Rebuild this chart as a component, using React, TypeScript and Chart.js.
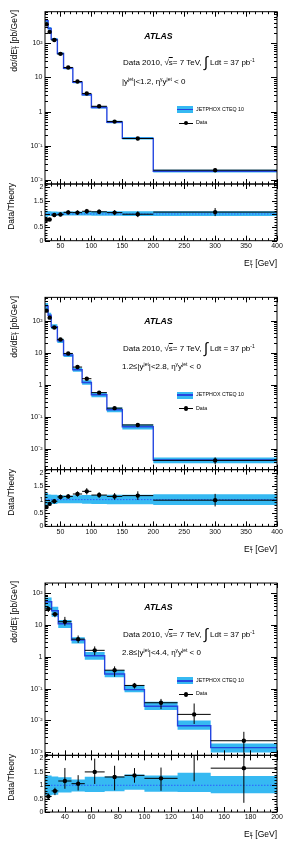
import React, { useEffect, useRef } from 'react';
import { Chart, registerables } from 'chart.js';

Chart.register(...registerables);

const FONT = '"Liberation Sans", Arial, Helvetica, sans-serif';
const BAND_COLOR = '#36b9f2';
const LINE_COLOR = '#2446e0';
const UNITY_COLOR = '#2d5cff';

// E_T^gamma bin edges and bin centres (GeV)
const EDGES_CENTRAL = [25, 30, 35, 45, 55, 70, 85, 100, 125, 150, 200, 400];
const CENTRES_CENTRAL = [27.5, 32.5, 40, 50, 62.5, 77.5, 92.5, 112.5, 137.5, 175, 300];
const EDGES_FORWARD = [25, 30, 35, 45, 55, 70, 85, 100, 125, 150, 200];
const CENTRES_FORWARD = [27.5, 32.5, 40, 50, 62.5, 77.5, 92.5, 112.5, 137.5, 175];

// |y_jet| < 1.2
const THEORY_1 = [460, 272, 130, 50, 18.5, 7.2, 3.1, 1.32, 0.49, 0.165, 0.018];
const BAND_HI_1 = [1.12, 1.10, 1.09, 1.08, 1.09, 1.09, 1.09, 1.10, 1.10, 1.10, 1.10];
const BAND_LO_1 = [0.90, 0.92, 0.93, 0.93, 0.94, 0.94, 0.94, 0.93, 0.93, 0.92, 0.92];
const DATA_1 = [359, 215, 125, 49, 19.6, 7.6, 3.4, 1.43, 0.51, 0.163, 0.0193];
const RATIO_1 = [0.78, 0.79, 0.96, 0.98, 1.06, 1.05, 1.10, 1.08, 1.05, 0.99, 1.07];
const ERR_UP_1 = [0.06, 0.06, 0.08, 0.07, 0.08, 0.08, 0.08, 0.08, 0.09, 0.11, 0.14];
const ERR_DN_1 = [0.06, 0.06, 0.08, 0.07, 0.08, 0.08, 0.08, 0.08, 0.09, 0.11, 0.14];

// 1.2 <= |y_jet| < 2.8
const THEORY_2 = [285, 148, 65, 23.5, 8.5, 2.95, 1.18, 0.49, 0.167, 0.049, 0.0045];
const BAND_HI_2 = [1.25, 1.19, 1.18, 1.16, 1.15, 1.16, 1.17, 1.17, 1.18, 1.18, 1.20];
const BAND_LO_2 = [0.75, 0.82, 0.84, 0.86, 0.86, 0.86, 0.85, 0.84, 0.83, 0.83, 0.80];
const DATA_2 = [205, 124, 61, 25.9, 9.5, 3.57, 1.55, 0.57, 0.187, 0.056, 0.0044];
const RATIO_2 = [0.72, 0.84, 0.94, 1.10, 1.12, 1.21, 1.31, 1.17, 1.12, 1.15, 0.98];
const ERR_UP_2 = [0.06, 0.07, 0.09, 0.08, 0.08, 0.08, 0.09, 0.09, 0.11, 0.14, 0.24];
const ERR_DN_2 = [0.06, 0.07, 0.09, 0.08, 0.08, 0.08, 0.09, 0.09, 0.11, 0.14, 0.24];

// 2.8 <= |y_jet| < 4.4
const THEORY_3 = [54, 28, 11, 3.4, 1.08, 0.29, 0.093, 0.028, 0.0068, 0.0014];
const BAND_HI_3 = [1.37, 1.33, 1.30, 1.22, 1.32, 1.33, 1.40, 1.37, 1.47, 1.35];
const BAND_LO_3 = [0.62, 0.65, 0.73, 0.77, 0.75, 0.78, 0.83, 0.76, 0.75, 0.70];
const DATA_3 = [32, 22, 12.7, 3.6, 1.6, 0.38, 0.126, 0.036, 0.0155, 0.0023];
const RATIO_3 = [0.58, 0.79, 1.16, 1.06, 1.50, 1.31, 1.37, 1.26, 2.3, 1.64];
const ERR_UP_3 = [0.2, 0.15, 0.42, 0.3, 0.33, 0.32, 0.2, 0.32, 1.2, 0.91];
const ERR_DN_3 = [0.2, 0.2, 0.25, 0.24, 0.3, 0.38, 0.2, 0.37, 0.5, 0.79];

// axis ticks and labels
const X_TICKS_CENTRAL = [50, 100, 150, 200, 250, 300, 350, 400];
const X_TICK_LABELS_CENTRAL = ['50', '100', '150', '200', '250', '300', '350', '400'];
const X_TICKS_FORWARD = [40, 60, 80, 100, 120, 140, 160, 180, 200];
const X_TICK_LABELS_FORWARD = ['40', '60', '80', '100', '120', '140', '160', '180', '200'];
const Y_TICKS_2DEC = [0.01, 0.1, 1, 10, 100];
const Y_TICK_LABELS_2DEC = ['10\u207B\u00B2', '10\u207B\u00B9', '1', '10', '10\u00B2'];
const Y_TICKS_3DEC = [0.001, 0.01, 0.1, 1, 10, 100];
const Y_TICK_LABELS_3DEC = ['10\u207B\u00B3', '10\u207B\u00B2', '10\u207B\u00B9', '1', '10', '10\u00B2'];
const RATIO_TICKS = [0, 0.5, 1, 1.5, 2];
const RATIO_TICK_LABELS = ['0', '0.5', '1', '1.5', '2'];
const RATIO_RANGE = [0, 2.12];

type PanelCfg = {
  edges: number[];
  centres: number[];
  theory: number[];
  bandHi: number[];
  bandLo: number[];
  data: number[];
  ratio: number[];
  errUp: number[];
  errDn: number[];
  xMin: number;
  xMax: number;
  xTicks: number[];
  xTickLabels: string[];
  xMinorStep: number;
  yMin: number;
  yMax: number;
  yTicks: number[];
  yTickLabels: string[];
  lowEdge: string;
};

const PANELS: PanelCfg[] = [
  {
    edges: EDGES_CENTRAL, centres: CENTRES_CENTRAL, theory: THEORY_1, bandHi: BAND_HI_1, bandLo: BAND_LO_1,
    data: DATA_1, ratio: RATIO_1, errUp: ERR_UP_1, errDn: ERR_DN_1,
    xMin: 25, xMax: 400, xTicks: X_TICKS_CENTRAL, xTickLabels: X_TICK_LABELS_CENTRAL, xMinorStep: 10,
    yMin: 0.0076, yMax: 840, yTicks: Y_TICKS_2DEC, yTickLabels: Y_TICK_LABELS_2DEC, lowEdge: '',
  },
  {
    edges: EDGES_CENTRAL, centres: CENTRES_CENTRAL, theory: THEORY_2, bandHi: BAND_HI_2, bandLo: BAND_LO_2,
    data: DATA_2, ratio: RATIO_2, errUp: ERR_UP_2, errDn: ERR_DN_2,
    xMin: 25, xMax: 400, xTicks: X_TICKS_CENTRAL, xTickLabels: X_TICK_LABELS_CENTRAL, xMinorStep: 10,
    yMin: 0.00226, yMax: 532, yTicks: Y_TICKS_2DEC, yTickLabels: Y_TICK_LABELS_2DEC, lowEdge: '1.2\u2264',
  },
  {
    edges: EDGES_FORWARD, centres: CENTRES_FORWARD, theory: THEORY_3, bandHi: BAND_HI_3, bandLo: BAND_LO_3,
    data: DATA_3, ratio: RATIO_3, errUp: ERR_UP_3, errDn: ERR_DN_3,
    xMin: 25, xMax: 200, xTicks: X_TICKS_FORWARD, xTickLabels: X_TICK_LABELS_FORWARD, xMinorStep: 5,
    yMin: 0.0008, yMax: 209, yTicks: Y_TICKS_3DEC, yTickLabels: Y_TICK_LABELS_3DEC, lowEdge: '2.8\u2264',
  },
];
const HIGH_EDGES = ['1.2', '2.8', '4.4'];

const PANEL_PITCH = 857 / 3;

function stepPoints(edges: number[], vals: number[]) {
  const pts = vals.map((v, i) => ({ x: edges[i], y: v }));
  pts.push({ x: edges[edges.length - 1], y: vals[vals.length - 1] });
  return pts;
}

function rangeStep(a: number, b: number, s: number) {
  const out: number[] = [];
  for (let v = a; v <= b + 1e-9; v += s) out.push(Math.round(v * 1000) / 1000);
  return out;
}

function logMinors(min: number, max: number) {
  const out: number[] = [];
  for (let d = Math.floor(Math.log10(min)); d <= Math.ceil(Math.log10(max)); d++) {
    for (let k = 2; k <= 9; k++) {
      const v = k * Math.pow(10, d);
      if (v >= min && v <= max) out.push(v);
    }
  }
  return out;
}

// ROOT-style frame with inward ticks on all four sides
function framePlugin(xMajor: number[], xMinor: number[], yMajor: number[], yMinor: number[], yMajLen: number, yMinLen: number) {
  return {
    id: 'rootFrame',
    afterDraw(chart: any) {
      const { ctx, chartArea: a } = chart;
      const xs = chart.scales.x;
      const ys = chart.scales.y;
      ctx.save();
      ctx.strokeStyle = '#000';
      ctx.lineWidth = 1;
      ctx.beginPath();
      const xt = (vals: number[], len: number) => {
        vals.forEach((v) => {
          if (v < xs.min || v > xs.max) return;
          const px = Math.round(xs.getPixelForValue(v)) + 0.5;
          ctx.moveTo(px, a.bottom);
          ctx.lineTo(px, a.bottom - len);
          ctx.moveTo(px, a.top);
          ctx.lineTo(px, a.top + len);
        });
      };
      const yt = (vals: number[], len: number) => {
        vals.forEach((v) => {
          if (v < ys.min || v > ys.max) return;
          const py = Math.round(ys.getPixelForValue(v)) + 0.5;
          ctx.moveTo(a.left, py);
          ctx.lineTo(a.left + len, py);
          ctx.moveTo(a.right, py);
          ctx.lineTo(a.right - len, py);
        });
      };
      xt(xMajor, 5);
      xt(xMinor, 2.5);
      yt(yMajor, yMajLen);
      yt(yMinor, yMinLen);
      ctx.stroke();
      ctx.strokeRect(a.left, a.top, a.right - a.left, a.bottom - a.top);
      ctx.restore();
    },
  };
}

// data error bars: vertical statistical error and horizontal bin width
function errorBarPlugin(xLo: number[], xHi: number[], xs0: number[], ys0: number[], yLo: number[], yHi: number[]) {
  return {
    id: 'errorBars',
    afterDatasetsDraw(chart: any) {
      const { ctx, chartArea: a } = chart;
      const xs = chart.scales.x;
      const ys = chart.scales.y;
      ctx.save();
      ctx.beginPath();
      ctx.rect(a.left, a.top, a.right - a.left, a.bottom - a.top);
      ctx.clip();
      ctx.strokeStyle = '#000';
      ctx.lineWidth = 1;
      ctx.beginPath();
      xs0.forEach((xv, i) => {
        const px = xs.getPixelForValue(xv);
        const py = ys.getPixelForValue(ys0[i]);
        ctx.moveTo(xs.getPixelForValue(xLo[i]), py);
        ctx.lineTo(xs.getPixelForValue(xHi[i]), py);
        ctx.moveTo(px, ys.getPixelForValue(yLo[i]));
        ctx.lineTo(px, ys.getPixelForValue(yHi[i]));
      });
      ctx.stroke();
      ctx.restore();
    },
  };
}

const tickFont = { family: FONT, size: 7 };

function xScale(cfg: PanelCfg, showLabels: boolean, height: number) {
  return {
    type: 'linear',
    min: cfg.xMin,
    max: cfg.xMax,
    bounds: 'data',
    display: showLabels,
    afterBuildTicks: (s: any) => {
      s.ticks = cfg.xTicks.map((v) => ({ value: v }));
    },
    afterFit: (s: any) => {
      s.height = height;
    },
    ticks: {
      autoSkip: false,
      maxRotation: 0,
      font: tickFont,
      color: '#111',
      padding: 1,
      callback: (v: number) => cfg.xTickLabels[cfg.xTicks.indexOf(v)] ?? '',
    },
    grid: { display: false, drawTicks: false },
    border: { display: false },
  };
}

function mainConfig(cfg: PanelCfg, dy: number): any {
  const hiBand = cfg.theory.map((t, i) => t * cfg.bandHi[i]);
  const loBand = cfg.theory.map((t, i) => t * cfg.bandLo[i]);
  const xLo = cfg.centres.map((_, i) => cfg.edges[i]);
  const xHi = cfg.centres.map((_, i) => cfg.edges[i + 1]);
  const yHi = cfg.data.map((d, i) => d * (1 + cfg.errUp[i]));
  const yLo = cfg.data.map((d, i) => d * (1 - cfg.errDn[i]));
  const xMinor = rangeStep(cfg.xMin, cfg.xMax, cfg.xMinorStep);
  return {
    type: 'line',
    data: {
      datasets: [
        { data: stepPoints(cfg.edges, hiBand), stepped: 'before', fill: '+1', backgroundColor: BAND_COLOR, borderWidth: 0, pointRadius: 0, order: 5 },
        { data: stepPoints(cfg.edges, loBand), stepped: 'before', fill: false, borderWidth: 0, pointRadius: 0, order: 6 },
        { data: stepPoints(cfg.edges, cfg.theory), stepped: 'before', fill: false, borderColor: LINE_COLOR, borderWidth: 1.4, pointRadius: 0, order: 3 },
        { data: cfg.centres.map((x, i) => ({ x, y: cfg.data[i] })), showLine: false, pointRadius: 2.2, pointBackgroundColor: '#000', pointBorderWidth: 0, order: 1 },
      ],
    },
    options: {
      animation: false,
      responsive: false,
      events: [],
      layout: { padding: { left: 0, right: 8, top: 11.7 + dy, bottom: 12 - dy }, autoPadding: false },
      plugins: { legend: { display: false }, tooltip: { enabled: false } },
      scales: {
        x: { ...xScale(cfg, false, 0) },
        y: {
          type: 'logarithmic',
          min: cfg.yMin,
          max: cfg.yMax,
          bounds: 'data',
          afterBuildTicks: (s: any) => {
            s.ticks = cfg.yTicks.map((v) => ({ value: v }));
          },
          afterFit: (s: any) => {
            s.width = 45;
          },
          ticks: {
            autoSkip: false,
            font: tickFont,
            color: '#111',
            padding: 2.5,
            callback: (v: number) => cfg.yTickLabels[cfg.yTicks.indexOf(v)] ?? '',
          },
          grid: { display: false, drawTicks: false },
          border: { display: false },
        },
      },
    },
    plugins: [
      errorBarPlugin(xLo, xHi, cfg.centres, cfg.data, yLo, yHi),
      framePlugin(cfg.xTicks, xMinor, cfg.yTicks, logMinors(cfg.yMin, cfg.yMax), 6, 3),
    ],
  };
}

function ratioConfig(cfg: PanelCfg, dy: number): any {
  const xLo = cfg.centres.map((_, i) => cfg.edges[i]);
  const xHi = cfg.centres.map((_, i) => cfg.edges[i + 1]);
  const yHi = cfg.ratio.map((r, i) => r * (1 + cfg.errUp[i]));
  const yLo = cfg.ratio.map((r, i) => r * (1 - cfg.errDn[i]));
  const xMinor = rangeStep(cfg.xMin, cfg.xMax, cfg.xMinorStep);
  return {
    type: 'line',
    data: {
      datasets: [
        { data: stepPoints(cfg.edges, cfg.bandHi), stepped: 'before', fill: '+1', backgroundColor: BAND_COLOR, borderWidth: 0, pointRadius: 0, order: 5 },
        { data: stepPoints(cfg.edges, cfg.bandLo), stepped: 'before', fill: false, borderWidth: 0, pointRadius: 0, order: 6 },
        { data: [{ x: cfg.xMin, y: 1 }, { x: cfg.xMax, y: 1 }], fill: false, borderColor: UNITY_COLOR, borderWidth: 1, borderDash: [1.5, 1.5], pointRadius: 0, order: 3 },
        { data: cfg.centres.map((x, i) => ({ x, y: cfg.ratio[i] })), showLine: false, pointRadius: 2.2, pointBackgroundColor: '#000', pointBorderWidth: 0, order: 1 },
      ],
    },
    options: {
      animation: false,
      responsive: false,
      events: [],
      layout: { padding: { left: 0, right: 8, top: 8 + dy, bottom: 0 }, autoPadding: false },
      plugins: { legend: { display: false }, tooltip: { enabled: false } },
      scales: {
        x: xScale(cfg, true, 19.3 - dy),
        y: {
          type: 'linear',
          min: RATIO_RANGE[0],
          max: RATIO_RANGE[1],
          bounds: 'data',
          afterBuildTicks: (s: any) => {
            s.ticks = RATIO_TICKS.map((v) => ({ value: v }));
          },
          afterFit: (s: any) => {
            s.width = 45;
          },
          ticks: {
            autoSkip: false,
            font: tickFont,
            color: '#111',
            padding: 1.5,
            callback: (v: number) => RATIO_TICK_LABELS[RATIO_TICKS.indexOf(v)] ?? '',
          },
          grid: { display: false, drawTicks: false },
          border: { display: false },
        },
      },
    },
    plugins: [
      errorBarPlugin(xLo, xHi, cfg.centres, cfg.ratio, yLo, yHi),
      framePlugin(cfg.xTicks, xMinor, RATIO_TICKS, rangeStep(0, 2.1, 0.1), 5, 2.5),
    ],
  };
}

const sup: React.CSSProperties = { fontSize: '62%', verticalAlign: '0.55em', lineHeight: 0 };

function EtGamma() {
  return (
    <>
      E
      <span style={{ display: 'inline-block', fontSize: '60%', lineHeight: 0.85, verticalAlign: '-0.3em', textAlign: 'left' }}>
        <span style={{ display: 'block' }}>{'\u03B3'}</span>
        <span style={{ display: 'block' }}>T</span>
      </span>
    </>
  );
}

const text = (x: number, y: number, size: number, extra: React.CSSProperties = {}): React.CSSProperties => ({
  position: 'absolute',
  left: x,
  top: y,
  transform: 'translateY(-50%)',
  fontFamily: FONT,
  fontSize: size,
  lineHeight: 1,
  whiteSpace: 'nowrap',
  color: '#000',
  ...extra,
});

function rotated(xCenter: number, topEnd: number, size: number): React.CSSProperties {
  const W = 100;
  const h = 12;
  return {
    position: 'absolute',
    left: xCenter - h / 2,
    top: topEnd + W,
    width: W,
    height: h,
    lineHeight: `${h}px`,
    textAlign: 'right',
    transformOrigin: '0 0',
    transform: 'rotate(-90deg)',
    fontFamily: FONT,
    fontSize: size,
    whiteSpace: 'nowrap',
    color: '#000',
  };
}

function Panel({ cfg, index }: { cfg: PanelCfg; index: number }) {
  const mainRef = useRef<HTMLCanvasElement>(null);
  const ratioRef = useRef<HTMLCanvasElement>(null);
  const top = index * PANEL_PITCH;
  const top0 = Math.round(top);
  const dy = top - top0;

  useEffect(() => {
    const m = new Chart(mainRef.current as HTMLCanvasElement, mainConfig(cfg, dy));
    const r = new Chart(ratioRef.current as HTMLCanvasElement, ratioConfig(cfg, dy));
    return () => {
      m.destroy();
      r.destroy();
    };
  }, []);

  return (
    <div style={{ position: 'absolute', left: 0, top: top0, width: 285, height: 286 }}>
      <canvas ref={mainRef} width={285} height={196} style={{ position: 'absolute', left: 0, top: 0, width: 285, height: 196 }} />
      <canvas ref={ratioRef} width={285} height={84} style={{ position: 'absolute', left: 0, top: 176, width: 285, height: 84 }} />

      <div style={rotated(13.5, 10 + dy, 8.5)}>
        d{'\u03C3'}/d<EtGamma /> [pb/GeV]
      </div>
      <div style={rotated(11, 183 + dy, 8.5)}>Data/Theory</div>
      <div style={text(0, 263 + dy, 8.5, { left: 'auto', right: 8 })}>
        <EtGamma /> [GeV]
      </div>

      <div style={text(158.5, 35.8 + dy, 8.7, { fontWeight: 'bold', fontStyle: 'italic', transform: 'translate(-50%, -50%)' })}>ATLAS</div>
      <div style={text(123, 63.3 + dy, 8)}>
        Data 2010, {'\u221A'}
        <span style={{ textDecoration: 'overline' }}>s</span>= 7 TeV,{' '}
        <span style={{ fontSize: 15, lineHeight: 0, verticalAlign: '-0.12em' }}>{'\u222B'}</span> Ldt = 37 pb<span style={sup}>-1</span>
      </div>
      <div style={text(122, 81.8 + dy, 8)}>
        {cfg.lowEdge}|y<span style={sup}>jet</span>|&lt;{HIGH_EDGES[index]}, {'\u03B7'}
        <span style={sup}>{'\u03B3'}</span>y<span style={sup}>jet</span> &lt; 0
      </div>

      <div style={{ position: 'absolute', left: 177, top: 106 + dy, width: 16, height: 7, background: BAND_COLOR }}>
        <div style={{ position: 'absolute', left: 0, top: 2.8, width: 16, height: 1.4, background: LINE_COLOR }} />
      </div>
      <div style={text(196, 109.6 + dy, 5.3)}>JETPHOX CTEQ 10</div>
      <div style={{ position: 'absolute', left: 179, top: 122.5 + dy, width: 14, height: 1, background: '#000' }} />
      <div style={{ position: 'absolute', left: 183.8, top: 120.8 + dy, width: 4.4, height: 4.4, borderRadius: '50%', background: '#000' }} />
      <div style={text(196, 123 + dy, 5.3)}>Data</div>
    </div>
  );
}

export default function App() {
  return (
    <div style={{ position: 'absolute', left: 0, top: 0, width: 285, height: 857, background: '#fff', overflow: 'hidden' }}>
      {PANELS.map((cfg, i) => (
        <Panel key={i} cfg={cfg} index={i} />
      ))}
    </div>
  );
}
